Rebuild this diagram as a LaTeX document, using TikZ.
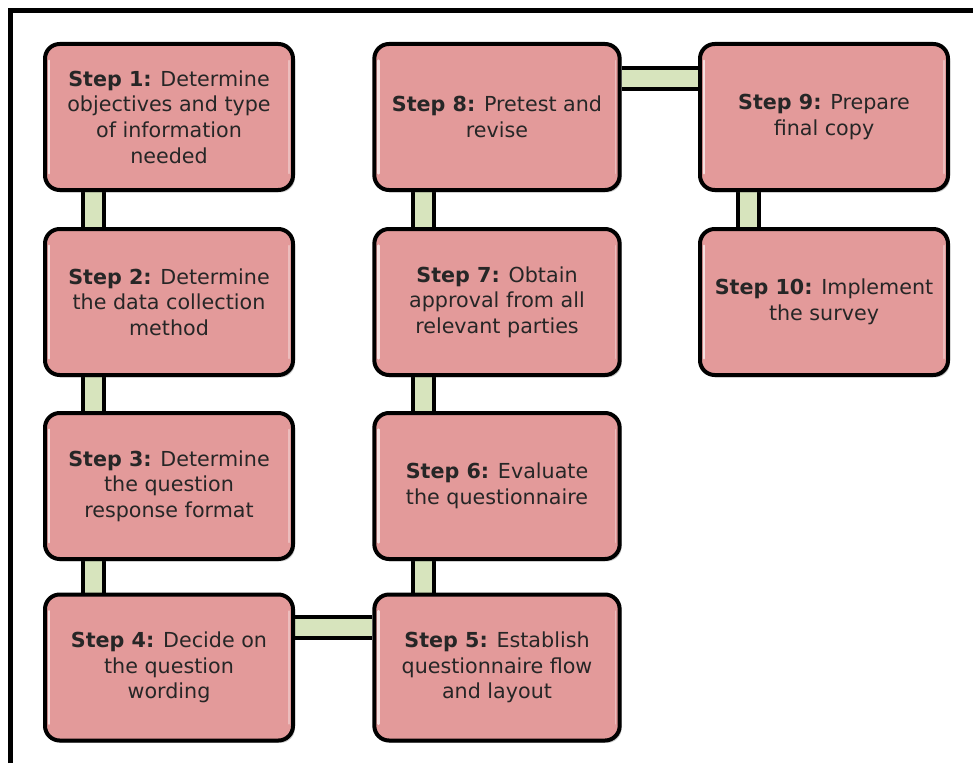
\documentclass[tikz,border=0pt]{standalone}
\usepackage{fontspec}
\setmainfont{DejaVu Sans}
\usetikzlibrary{shadows,backgrounds}
\definecolor{boxfill}{RGB}{227,154,154}
\definecolor{linkfill}{RGB}{215,228,189}
\tikzset{
  stepbox/.style={draw=black, line width=3pt, fill=boxfill, rounded corners=11pt,
    minimum width=186pt, minimum height=109.5pt, align=center, inner sep=2pt,
    font=\fontsize{15.5}{19.2}\selectfont, text=black!85,
    drop shadow={shadow xshift=1.5pt, shadow yshift=-1.8pt, opacity=0.35, fill=black!60}},
  link/.style={line width=3pt, draw=black, double=linkfill, double distance=12.75pt},
  gloss/.style={white, line width=1.8pt, line cap=round, opacity=0.7},
  frame/.style={line width=3.4pt, line join=miter}
}
\begin{document}
\begin{tikzpicture}[x=0.75pt,y=-0.75pt]
\useasboundingbox (0,0) rectangle (973,763);

% outer frame: only top and left edges are visible
\coordinate (fbl) at (10.5,763);
\coordinate (ftl) at (10.5,10.5);
\coordinate (ftr) at (973,10.5);
\draw[frame] (fbl) -- (ftl) -- (ftr);

% steps, column by column
\node[stepbox] (s1) at (169,117) {\textbf{Step 1:} Determine\\objectives and type\\of information\\needed};
\node[stepbox] (s2) at (169,302) {\textbf{Step 2:} Determine\\the data collection\\method};
\node[stepbox] (s3) at (169,486) {\textbf{Step 3:} Determine\\the question\\response format};
\node[stepbox] (s4) at (169,667.5) {\textbf{Step 4:} Decide on\\the question\\wording};

\node[stepbox, minimum width=184pt] (s8) at (497,117) {\textbf{Step 8:} Pretest and\\revise};
\node[stepbox, minimum width=184pt] (s7) at (497,302) {\textbf{Step 7:} Obtain\\approval from all\\relevant parties};
\node[stepbox, minimum width=184pt] (s6) at (497,486) {\textbf{Step 6:} Evaluate\\the questionnaire};
\node[stepbox, minimum width=184pt] (s5) at (497,667.5) {\textbf{Step 5:} Establish\\questionnaire flow\\and layout};

\node[stepbox] (s9) at (824,117) {\textbf{Step 9:} Prepare\\final copy};
\node[stepbox] (s10) at (824,302) {\textbf{Step 10:} Implement\\the survey};

% glossy highlight along the inner side edges of each step
\foreach \n in {s1,s2,s3,s4,s5,s6,s7,s8,s9,s10}{
  \draw[gloss] ([xshift=4.5pt,yshift=-14pt]\n.north west) -- ([xshift=4.5pt,yshift=14pt]\n.south west);
  \draw[white, line width=1.2pt, opacity=0.35, line cap=round] ([xshift=-4.5pt,yshift=-14pt]\n.north east) -- ([xshift=-4.5pt,yshift=14pt]\n.south east);
}

% connecting bars behind the steps
\begin{scope}[on background layer]
  \draw[link] ([xshift=38pt]s1.south west) -- ([xshift=38pt]s2.north west);
  \draw[link] ([xshift=38pt]s2.south west) -- ([xshift=38pt]s3.north west);
  \draw[link] ([xshift=38pt]s3.south west) -- ([xshift=38pt]s4.north west);
  \draw[link] ([yshift=-26.5pt]s4.north east) -- ([yshift=-26.5pt]s5.north west);
  \draw[link] ([xshift=38pt]s5.north west) -- ([xshift=38pt]s6.south west);
  \draw[link] ([xshift=38pt]s6.north west) -- ([xshift=38pt]s7.south west);
  \draw[link] ([xshift=38pt]s7.north west) -- ([xshift=38pt]s8.south west);
  \draw[link] ([yshift=-27.5pt]s8.north east) -- ([yshift=-27.5pt]s9.north west);
  \draw[link] ([xshift=38pt]s9.south west) -- ([xshift=38pt]s10.north west);
\end{scope}
\end{tikzpicture}
\end{document}
